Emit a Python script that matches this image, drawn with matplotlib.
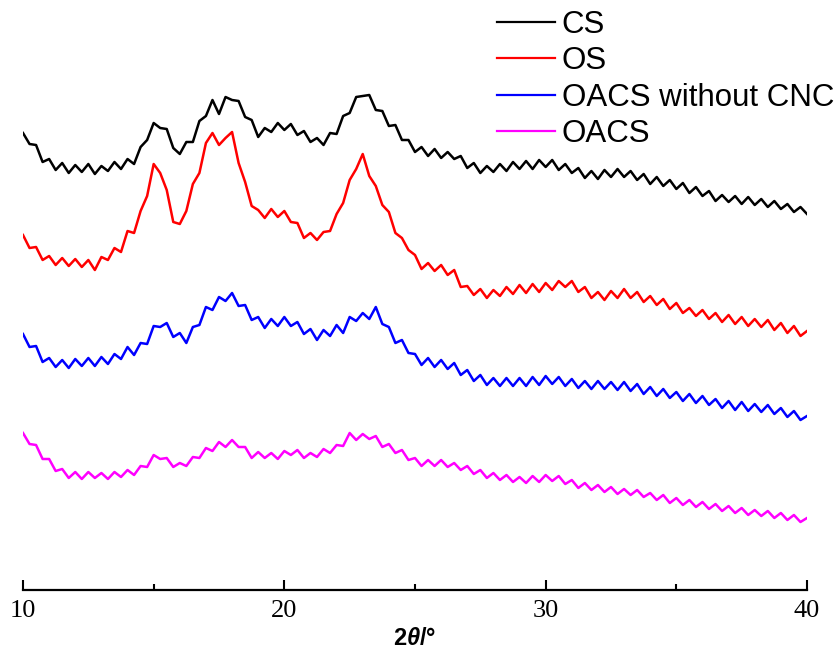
import numpy as np
import matplotlib
matplotlib.use('Agg')
from matplotlib import pyplot as plt

plt.rcParams['mathtext.fontset'] = 'custom'
plt.rcParams['mathtext.it'] = 'Liberation Sans:italic:bold'
plt.rcParams['mathtext.rm'] = 'Liberation Sans:bold'

# 2theta grid, 10..40 step 0.25
two_theta = np.linspace(10, 40, 121)

# intensities (arbitrary units, curves stacked)
cs = [467, 456, 455, 438, 441, 430, 437, 427, 435, 428, 436, 426, 434, 429, 438, 431,
      441, 436, 453, 460, 477, 472, 471, 452, 446, 458, 458, 479, 484, 500, 486, 503,
      500, 499, 483, 480, 463, 472, 468, 477, 470, 476, 465, 469, 458, 462, 455, 467,
      466, 484, 487, 503, 504, 505, 490, 489, 474, 475, 460, 460, 448, 453, 444, 451,
      442, 448, 441, 444, 432, 437, 427, 434, 428, 436, 429, 438, 431, 439, 431, 440,
      433, 440, 430, 436, 427, 432, 422, 429, 421, 430, 423, 431, 423, 429, 420, 426,
      416, 423, 414, 420, 411, 417, 407, 413, 404, 409, 399, 405, 398, 404, 396, 403,
      395, 401, 393, 399, 391, 396, 388, 393, 386]
os_ = [365, 352, 353, 340, 344, 335, 342, 334, 341, 333, 340, 330, 343, 340, 352, 348,
       369, 367, 389, 404, 436, 427, 410, 378, 376, 389, 416, 427, 457, 467, 455, 462,
       468, 437, 418, 394, 390, 382, 391, 383, 389, 378, 377, 362, 367, 360, 368, 369,
       386, 397, 420, 431, 446, 424, 414, 395, 388, 367, 362, 350, 345, 331, 337, 329,
       335, 325, 330, 313, 314, 305, 311, 302, 310, 304, 313, 306, 315, 307, 316, 308,
       317, 310, 319, 313, 319, 308, 313, 302, 308, 300, 309, 302, 311, 302, 308, 298,
       304, 295, 301, 291, 297, 287, 292, 284, 290, 281, 287, 278, 285, 276, 283, 274,
       281, 273, 280, 270, 277, 267, 274, 264, 269]
oacs_wo = [266, 253, 254, 238, 242, 233, 240, 232, 241, 234, 242, 234, 243, 236, 246, 241,
           253, 245, 257, 256, 274, 273, 277, 263, 267, 257, 273, 275, 293, 290, 303, 299,
           307, 294, 295, 280, 283, 272, 281, 274, 283, 274, 278, 266, 271, 260, 270, 264,
           275, 267, 283, 279, 287, 281, 293, 276, 273, 257, 260, 247, 246, 235, 242, 233,
           240, 231, 237, 225, 230, 219, 225, 215, 222, 214, 222, 214, 222, 214, 223, 215,
           224, 216, 223, 214, 221, 212, 219, 211, 219, 211, 218, 210, 218, 209, 216, 206,
           213, 204, 211, 202, 208, 199, 206, 197, 204, 195, 201, 192, 199, 190, 198, 189,
           196, 188, 195, 186, 192, 183, 189, 180, 184]
oacs = [167, 156, 155, 141, 141, 129, 131, 122, 128, 121, 128, 122, 127, 121, 128, 123,
        130, 125, 134, 133, 145, 141, 142, 133, 137, 134, 143, 142, 152, 149, 158, 153,
        160, 153, 153, 142, 148, 142, 147, 141, 149, 145, 150, 142, 147, 143, 151, 147,
        155, 154, 167, 160, 166, 161, 164, 153, 156, 147, 150, 140, 142, 134, 140, 134,
        140, 133, 137, 130, 134, 126, 130, 122, 127, 120, 125, 118, 123, 117, 124, 118,
        125, 119, 124, 116, 120, 112, 117, 110, 115, 108, 113, 106, 111, 105, 110, 103,
        107, 100, 105, 97, 102, 95, 100, 93, 98, 91, 96, 89, 94, 87, 92, 85,
        90, 84, 89, 82, 87, 80, 85, 78, 82]

labels = ['CS', 'OS', 'OACS without CNC', 'OACS']
colors = ['#000000', '#ff0000', '#0000ff', '#ff00ff']

fig = plt.figure(figsize=(8.36, 6.62), dpi=100)
ax = fig.add_axes([23/836, 72/662, 784/836, 590/662])

for y, c, lab in zip([cs, os_, oacs_wo, oacs], colors, labels):
    ax.plot(two_theta, y, color=c, lw=1.8, label=lab)

ax.set_xlim(10, 40)
ax.set_ylim(10, 600)
for s in ['left', 'right', 'top']:
    ax.spines[s].set_visible(False)
ax.spines['bottom'].set_linewidth(1.6)
ax.set_yticks([])
ax.set_xticks([10, 20, 30, 40])
ax.set_xticks([15, 25, 35], minor=True)
ax.tick_params(axis='x', which='major', direction='in', length=7.5, width=1.5, pad=7,
               labelsize=19)
ax.tick_params(axis='x', which='minor', direction='in', length=4, width=1.5)
for t in ax.get_xticklabels():
    t.set_fontfamily('Liberation Serif')
ax.set_xlabel(r'2$\theta$/°', fontsize=17, fontweight='bold',
              fontfamily='Liberation Sans', labelpad=4)

leg = ax.legend(loc='upper left', bbox_to_anchor=(497/836, 1 - 10/662),
                bbox_transform=fig.transFigure, frameon=False,
                handlelength=1.85, handletextpad=0.22, labelspacing=0.2,
                borderpad=0, borderaxespad=0, prop={'family': 'Liberation Sans', 'size': 22.5})
for line in leg.get_lines():
    line.set_linewidth(1.6)

fig.savefig('out.png', dpi=100)
